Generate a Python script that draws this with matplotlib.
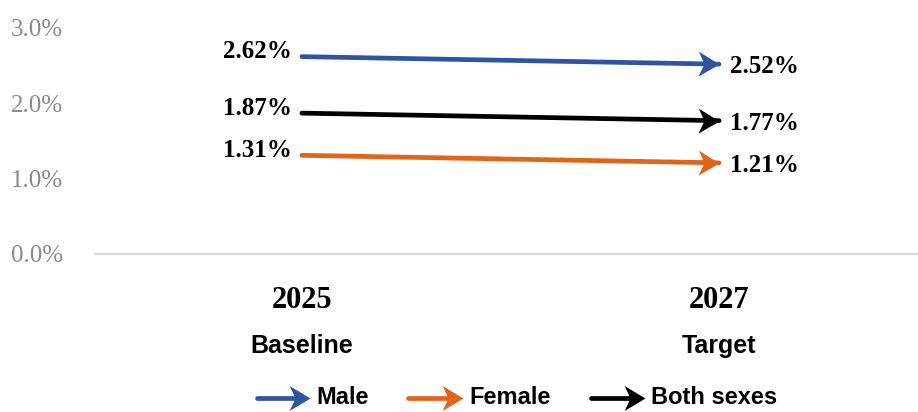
import numpy as np
import matplotlib
matplotlib.use("Agg")
import matplotlib.pyplot as plt
from matplotlib.path import Path
from matplotlib.markers import MarkerStyle
from matplotlib.transforms import Affine2D, blended_transform_factory
from matplotlib.lines import Line2D

# ---- data -------------------------------------------------------------
years = ["2025", "2027"]
stages = ["Baseline", "Target"]
series = ["Male", "Female", "Both sexes"]
male = [2.62, 2.52]
female = [1.31, 1.21]
both = [1.87, 1.77]
colors = ["#2F55A0", "#E0641A", "#000000"]
yticks = [0.0, 1.0, 2.0, 3.0]

values = [male, female, both]

W, H = 918, 412
fig = plt.figure(figsize=(W / 100, H / 100), dpi=100)
ax = fig.add_axes([95 / W, (H - 254) / H, (W - 95) / W, (254 - 28) / H])
ax.set_xlim(-0.496, 1.477)
ax.set_ylim(0, 3.0)

for s in ["top", "right", "left"]:
    ax.spines[s].set_visible(False)
ax.spines["bottom"].set_color("#d9d9d9")
ax.spines["bottom"].set_linewidth(1.6)
ax.set_xticks([])
ax.set_yticks(yticks)
ax.set_yticklabels([f"{v:.1f}%" for v in yticks], family="Liberation Serif",
                   fontsize=18, color="#8a8a8a")
ax.tick_params(axis="y", length=0, pad=23)
for lbl in ax.get_yticklabels():
    lbl.set_verticalalignment("center_baseline")

# stealth-style arrow head with its tip at the origin
head = Path([(0, 0), (-1, 0.6), (-0.72, 0), (-1, -0.6), (0, 0)],
            [Path.MOVETO, Path.LINETO, Path.LINETO, Path.LINETO, Path.CLOSEPOLY])

def arrow_marker(angle_deg):
    return MarkerStyle(head, transform=Affine2D().rotate_deg(angle_deg))

LW = 3.4
HEAD = 30

x = np.arange(len(years))
fig.canvas.draw()
for vals, c in zip(values, colors):
    ax.plot(x, vals, color=c, lw=LW, solid_capstyle="round", zorder=3)
    p0 = ax.transData.transform((x[0], vals[0]))
    p1 = ax.transData.transform((x[1], vals[1]))
    ang = np.degrees(np.arctan2(p1[1] - p0[1], p1[0] - p0[0]))
    ax.plot([x[1]], [vals[1]], linestyle="none", marker=arrow_marker(ang),
            markersize=HEAD, color=c, markeredgewidth=0, zorder=4)
    ax.annotate(f"{vals[0]:.2f}%", (x[0], vals[0]), xytext=(-7, 3.5),
                textcoords="offset points", ha="right", va="center",
                family="Liberation Serif", fontweight="bold", fontsize=18)
    ax.annotate(f"{vals[1]:.2f}%", (x[1], vals[1]), xytext=(8, -2),
                textcoords="offset points", ha="left", va="center",
                family="Liberation Serif", fontweight="bold", fontsize=18)

# category labels under the axis
trans = blended_transform_factory(ax.transData, fig.transFigure)
for xi, yr, st in zip(x, years, stages):
    ax.text(xi, 1 - 300 / H, yr, transform=trans, ha="center", va="center",
            family="Liberation Serif", fontweight="bold", fontsize=22)
    ax.text(xi, 1 - 346 / H, st, transform=trans, ha="center", va="center",
            family="Liberation Sans", fontweight="bold", fontsize=18)

# legend row of arrows
leg_y = 1 - 398 / H
leg_arrows = [(257, 310), (408, 463), (591, 645)]
for (a0, a1), name, c in zip(leg_arrows, series, colors):
    fig.add_artist(Line2D([a0 / W, (a1 - 12) / W], [leg_y, leg_y], color=c,
                          lw=LW, solid_capstyle="round", transform=fig.transFigure))
    fig.add_artist(Line2D([a1 / W], [leg_y], linestyle="none",
                          marker=arrow_marker(0), markersize=HEAD, color=c,
                          markeredgewidth=0, transform=fig.transFigure))
    fig.text((a1 + 6) / W, leg_y, name, ha="left", va="center",
             family="Liberation Sans", fontweight="bold", fontsize=17)

fig.savefig("out.png", dpi=100)
